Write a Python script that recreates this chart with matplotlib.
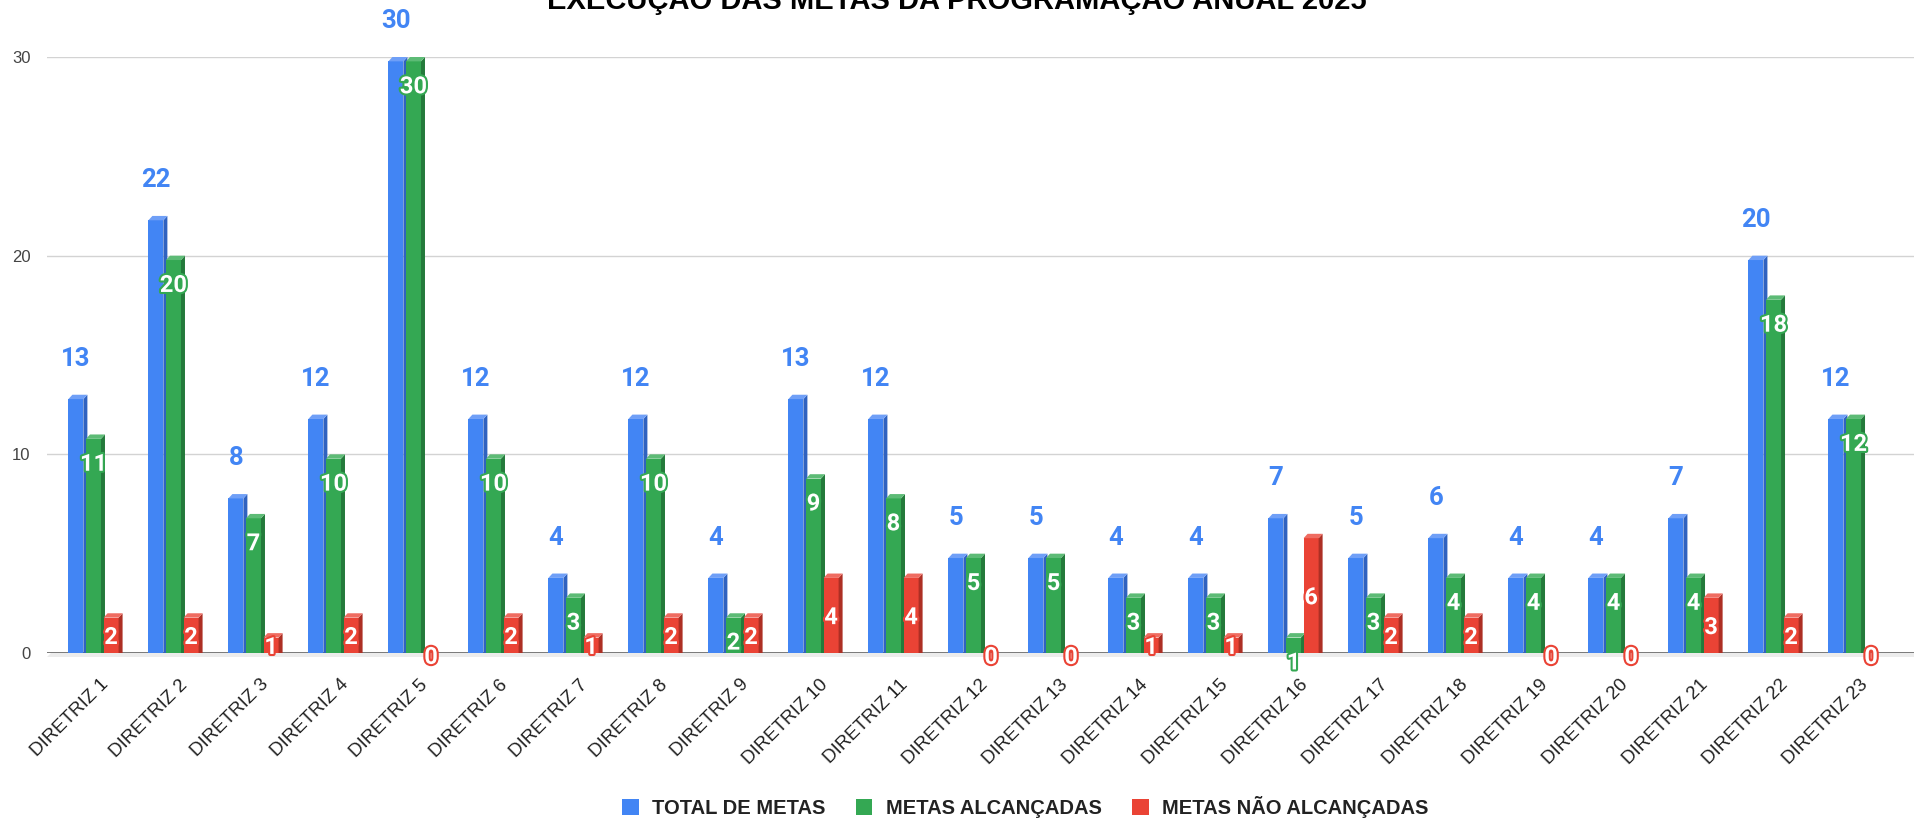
import matplotlib
matplotlib.use('Agg')
import matplotlib.pyplot as plt
import matplotlib.patheffects as pe
from matplotlib.patches import Rectangle, Polygon, Patch
from matplotlib.transforms import ScaledTranslation


title = 'EXECUÇÃO DAS METAS DA PROGRAMAÇÃO ANUAL 2025'
categories = ['DIRETRIZ %d' % (i + 1) for i in range(23)]
total_metas = [13, 22, 8, 12, 30, 12, 4, 12, 4, 13, 12, 5, 5, 4, 4, 7, 5, 6, 4, 4, 7, 20, 12]
metas_alcancadas = [11, 20, 7, 10, 30, 10, 3, 10, 2, 9, 8, 5, 5, 3, 3, 1, 3, 4, 4, 4, 4, 18, 12]
metas_nao_alcancadas = [2, 2, 1, 2, 0, 2, 1, 2, 2, 4, 4, 0, 0, 1, 1, 6, 2, 2, 0, 0, 3, 2, 0]
series_names = ['TOTAL DE METAS', 'METAS ALCANÇADAS', 'METAS NÃO ALCANÇADAS']
yticks = [0, 10, 20, 30]

# cores: frente, lateral, topo
blue = ('#4285F4', '#2f62c0', '#6f9ff7')
green = ('#34A853', '#247a3b', '#5dbb76')
red = ('#EA4335', '#ad2f24', '#ef6c61')

bar_w = 0.1875
off = 0.22
dx = 0.05   # profundidade horizontal (unidades x)
dy = 0.22   # profundidade vertical (unidades y)


def draw_bar(ax, x, v, colors):
    # x = centro da face frontal
    if v <= 0:
        return
    front, side, top = colors
    x0 = x - bar_w / 2
    ax.add_patch(Rectangle((x0, -dy), bar_w, v, facecolor=front,
                           edgecolor='none', zorder=3))
    ax.add_patch(Polygon([(x0 + bar_w, -dy), (x0 + bar_w + dx, 0),
                          (x0 + bar_w + dx, v), (x0 + bar_w, v - dy)],
                         closed=True, facecolor=side, edgecolor='none', zorder=3))
    ax.add_patch(Polygon([(x0, v - dy), (x0 + bar_w, v - dy),
                          (x0 + bar_w + dx, v), (x0 + dx, v)],
                         closed=True, facecolor=top, edgecolor='none', zorder=3))


fig = plt.figure(figsize=(19.14, 8.19), dpi=100)
ax = fig.add_axes([47 / 1914, 166 / 819, 1867 / 1914, 596 / 819])
ax.set_xlim(-0.581, 22.756)
ax.set_ylim(0, 30)
for s in ax.spines.values():
    s.set_visible(False)

# grade e chao
for t in yticks[1:]:
    ax.axhline(t, color='#d3d3d3', linewidth=1.0, zorder=1)
ax.add_patch(Polygon([(-0.581, -dy), (22.756, -dy), (22.756, 0), (-0.581 + dx, 0)],
                     closed=True, facecolor='#ececec', edgecolor='none',
                     zorder=1, clip_on=False))
ax.axhline(0, color='#6e6e6e', linewidth=1.3, zorder=2)

lbl_font = dict(family='Roboto', weight='bold')
for i in range(len(categories)):
    xb, xg, xr = i - off, i, i + off
    draw_bar(ax, xb, total_metas[i], blue)
    draw_bar(ax, xg, metas_alcancadas[i], green)
    draw_bar(ax, xr, metas_nao_alcancadas[i], red)

    ax.text(xb, total_metas[i] + 1.45, str(total_metas[i]), color=blue[0],
            fontsize=18.5, ha='center', va='baseline', zorder=5, clip_on=False,
            **lbl_font)
    ax.text(xg, metas_alcancadas[i] - 1.5, str(metas_alcancadas[i]), color='white',
            fontsize=17, ha='center', va='center', zorder=5, clip_on=False,
            path_effects=[pe.withStroke(linewidth=3, foreground=green[0])],
            **lbl_font)
    v = metas_nao_alcancadas[i]
    ax.text(xr, v / 2 - dy, str(v), color='white',
            fontsize=17, ha='center', va='center', zorder=5, clip_on=False,
            path_effects=[pe.withStroke(linewidth=3, foreground=red[0])],
            **lbl_font)

ax.set_yticks(yticks)
ax.set_yticklabels([str(t) for t in yticks], fontsize=12, color='#444444',
                   family='Liberation Sans')
ax.tick_params(axis='y', length=0, pad=12)

ax.set_xticks(range(len(categories)))
ax.set_xticklabels(categories, rotation=45, ha='right', va='center',
                   rotation_mode='anchor', fontsize=13.5, color='#222222',
                   family='Liberation Sans')
ax.tick_params(axis='x', length=0, pad=21)
shift = ScaledTranslation(12 / 100, 0, fig.dpi_scale_trans)
for lab in ax.get_xticklabels():
    lab.set_transform(lab.get_transform() + shift)

fig.text(0.5, 1 - 9 / 819, title, ha='center', va='baseline', fontsize=21,
         fontweight='bold', family='Liberation Sans', color='#000000')

handles = [Patch(facecolor=c[0], edgecolor='none') for c in (blue, green, red)]
leg = fig.legend(handles, series_names, loc='center', bbox_to_anchor=(0.5355, 12 / 819),
                 ncol=3, frameon=False, handlelength=0.84, handleheight=0.84,
                 handletextpad=0.65, columnspacing=1.5,
                 prop=dict(family='Liberation Sans', weight='bold', size=14.5))
for t in leg.get_texts():
    t.set_color('#222222')

plt.savefig('out.png', dpi=100)
plt.close()
